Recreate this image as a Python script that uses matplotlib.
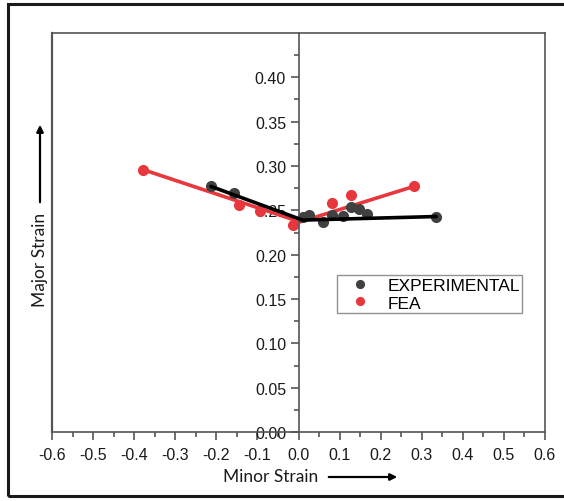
import matplotlib
matplotlib.use("Agg")
import matplotlib.pyplot as plt
from matplotlib.patches import Rectangle
from matplotlib.ticker import MultipleLocator, FixedLocator

# ---- data ----
exp_x = [-0.213, -0.158, 0.010, 0.026, 0.060, 0.081, 0.108, 0.129, 0.148, 0.166, 0.335]
exp_y = [0.277, 0.269, 0.242, 0.245, 0.237, 0.245, 0.244, 0.254, 0.251, 0.246, 0.243]
fea_x = [-0.379, -0.146, -0.094, -0.014, 0.081, 0.129, 0.281]
fea_y = [0.296, 0.256, 0.249, 0.234, 0.258, 0.267, 0.277]
exp_line_x = [-0.213, 0.010, 0.335]
exp_line_y = [0.277, 0.239, 0.243]
fea_line_x = [-0.379, 0.004, 0.281]
fea_line_y = [0.296, 0.237, 0.277]
xticks = [-0.6, -0.5, -0.4, -0.3, -0.2, -0.1, 0.0, 0.1, 0.2, 0.3, 0.4, 0.5, 0.6]
yticks = [0.00, 0.05, 0.10, 0.15, 0.20, 0.25, 0.30, 0.35, 0.40]

W, H = 564, 502
fig = plt.figure(figsize=(W / 100, H / 100), dpi=100)
fig.patch.set_facecolor("white")

# outer frame
fig.patches.append(Rectangle((8 / W, 1 - 497 / H), (575 - 8) / W, (497 - 5) / H,
                             transform=fig.transFigure, fill=False,
                             edgecolor="#1a1a1a", linewidth=2.2))

L, R, T, B = 52, 545, 34, 433
ax = fig.add_axes([L / W, 1 - B / H, (R - L) / W, (B - T) / H])
ax.set_xlim(-0.6, 0.6)
ax.set_ylim(0, 0.45)

gray = "#555555"
for s in ["top", "right", "bottom"]:
    ax.spines[s].set_color(gray)
    ax.spines[s].set_linewidth(1.2)
ax.spines["left"].set_position(("data", 0))
ax.spines["left"].set_color(gray)
ax.spines["left"].set_linewidth(1.2)
# left edge of the box
ax.plot([0, 0], [0, 1], transform=ax.transAxes, color=gray, lw=1.6, clip_on=False)

ax.xaxis.set_major_locator(FixedLocator(xticks))
ax.xaxis.set_minor_locator(MultipleLocator(0.05))
ax.yaxis.set_major_locator(FixedLocator(yticks))
ax.yaxis.set_minor_locator(FixedLocator([0.025 + 0.05 * i for i in range(9)]))
ax.set_xticklabels([f"{v:.1f}" for v in xticks])
ax.set_yticklabels([f"{v:.2f}" for v in yticks])

tickfont = "Liberation Sans"
ax.tick_params(axis="both", which="major", direction="out", length=6, width=1.2,
               color=gray, labelsize=11.5)
ax.tick_params(axis="both", which="minor", direction="out", length=3.5, width=1.2,
               color=gray)
ax.tick_params(axis="x", pad=5)
ax.tick_params(axis="y", pad=3)
for lab in ax.get_xticklabels() + ax.get_yticklabels():
    lab.set_fontfamily(tickfont)
    lab.set_color("#1a1a1a")

dark = "#404040"
red = "#e8383d"
ax.plot(fea_line_x, fea_line_y, color=red, lw=2.6, zorder=2, solid_capstyle="round")
ax.plot(exp_line_x, exp_line_y, color="black", lw=2.6, zorder=3, solid_capstyle="round")
ax.plot(exp_x, exp_y, "o", color=dark, ms=7, zorder=2.5, label="EXPERIMENTAL")
ax.plot(fea_x, fea_y, "o", color=red, ms=7, zorder=2.4, label="FEA")

h, l = ax.get_legend_handles_labels()
leg = ax.legend(h, l, loc="upper left", bbox_to_anchor=((337 - L) / (R - L), (B - 276) / (B - T)),
                frameon=True, fancybox=False, borderaxespad=0, handletextpad=0.45,
                handlelength=2.3, borderpad=0.15, labelspacing=0.15,
                prop={"family": tickfont, "size": 12.5}, markerscale=0.8)
leg.get_frame().set_edgecolor("#777777")
leg.get_frame().set_linewidth(1.0)

labfont = "Lato"
fig.text(271 / W, 1 - 477 / H, "Minor Strain", ha="center", va="center",
         fontsize=12.5, family=labfont, color="#1a1a1a")
fig.add_artist(matplotlib.patches.FancyArrowPatch(
    (326 / W, 1 - 478 / H), (400 / W, 1 - 478 / H), transform=fig.transFigure,
    arrowstyle="-|>", mutation_scale=10, lw=1.6, color="black"))
fig.text(40 / W, 1 - 260 / H, "Major Strain", ha="center", va="center", rotation=90,
         fontsize=12.5, family=labfont, color="#1a1a1a")
fig.add_artist(matplotlib.patches.FancyArrowPatch(
    (40 / W, 1 - 206 / H), (40 / W, 1 - 123 / H), transform=fig.transFigure,
    arrowstyle="-|>", mutation_scale=10, lw=1.6, color="black"))

fig.savefig("out.png", dpi=100)
